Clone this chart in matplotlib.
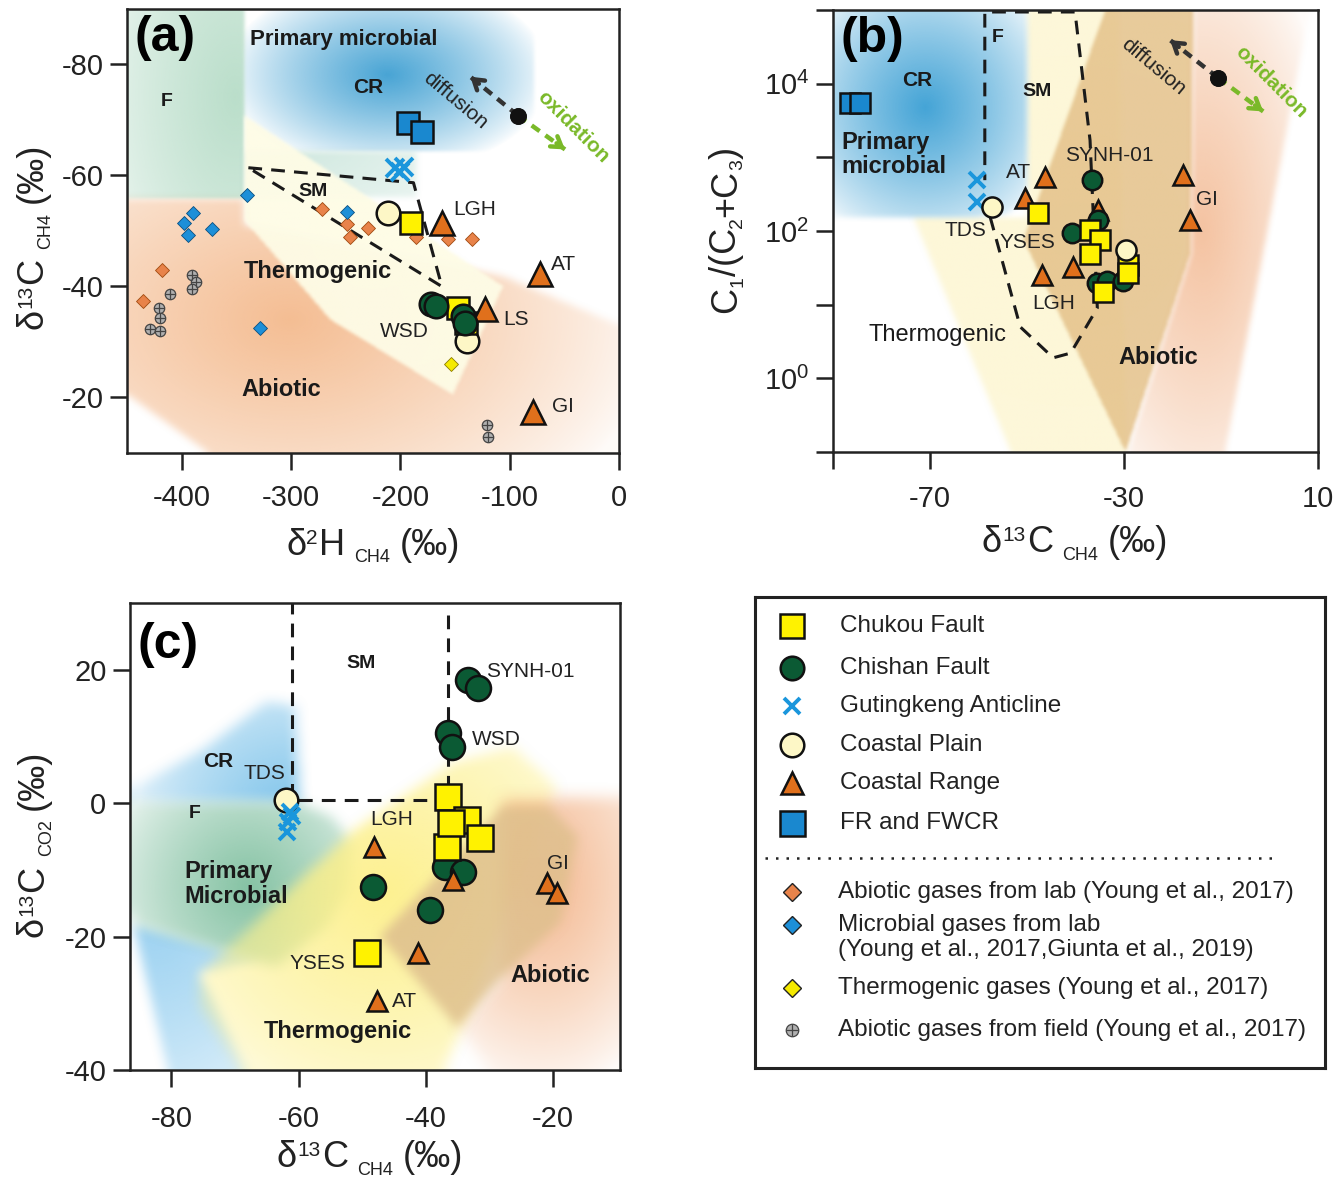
import numpy as np
import matplotlib
matplotlib.use("Agg")
import matplotlib.pyplot as plt
from matplotlib.path import Path
from matplotlib.colors import to_rgb

plt.rcParams["font.family"] = ["Liberation Sans", "DejaVu Sans"]
plt.rcParams["mathtext.default"] = "regular"
plt.rcParams["axes.unicode_minus"] = False

W, H = 1335, 1194

# ---------------- data: panel (a)  d2H vs d13C ----------------
chukou_a_x = [-190, -147, -140]
chukou_a_y = [-51.5, -36.2, -33.5]
chishan_a_x = [-172, -167, -143, -141]
chishan_a_y = [-36.8, -36.4, -34.6, -33.4]
guting_a_x = [-205, -200, -197]
guting_a_y = [-61.3, -60.6, -61.6]
cplain_a_x = [-211, -139]
cplain_a_y = [-53.3, -30.1]
crange_a_x = [-162, -123, -72, -79]
crange_a_y = [-51.5, -35.9, -42.2, -17.3]
fr_a_x = [-193, -180]
fr_a_y = [-69.5, -67.9]
lab_abiotic_x = [-272, -249, -246, -230, -186, -156, -134, -418, -435]
lab_abiotic_y = [-53.9, -51.2, -49.0, -50.6, -49.0, -48.6, -48.6, -43.0, -37.3]
lab_microbial_x = [-340, -390, -398, -394, -372, -249, -328]
lab_microbial_y = [-56.4, -53.3, -51.5, -49.2, -50.3, -53.5, -32.6]
lab_thermo_x = [-154]
lab_thermo_y = [-26]
field_abiotic_x = [-391, -387, -391, -411, -421, -420, -429, -420, -121, -120]
field_abiotic_y = [-42, -40.9, -39.5, -38.7, -36.2, -34.4, -32.3, -31.9, -15, -12.8]
sm_a_x = [-339, -188, -162, -339]
sm_a_y = [-61.4, -58.7, -40, -61.4]

a_f_zone = [(-460, -95), (-343, -95), (-343, -55.7), (-460, -55.7)]
a_microbial_zone = [(-343, -95), (-77, -95), (-77, -64.3), (-343, -64.3)]
a_strip_zone = [(-343, -64.3), (-185, -64.3), (-185, -56), (-343, -56)]
a_abiotic_zone = [(-460, -55.7), (-343, -55.7), (-343, -51), (-106, -41.8), (-2, -33.2),
                  (10, -33), (10, -5), (-340, -5), (-460, -22)]
a_thermo_zone = [(-342, -70.6), (-106, -40), (-152, -20.5), (-264, -34), (-342, -51.7)]

# ---------------- data: panel (b)  d13C vs C1/(C2+C3) ----------------
chukou_b_x = [-47.7, -37, -35, -37, -29.2, -29.2, -34.3]
chukou_b_y = [178, 102, 75, 48, 35, 27, 15]
chishan_b_x = [-36.6, -40.7, -35.4, -35.6, -33.5, -30.2]
chishan_b_y = [490, 93, 140, 19.5, 21, 21]
guting_b_x = [-60.3, -60.3]
guting_b_y = [490, 250]
cplain_b_x = [-57.2, -29.6]
cplain_b_y = [214, 55]
crange_b_x = [-46.3, -50.4, -35.4, -46.9, -40.5, -17.8, -16.4]
crange_b_y = [540, 280, 195, 25, 32, 575, 142]
fr_b_x = [-86.5, -84.5]
fr_b_y = [5500, 5500]
sm_b_x = [-57.6, -55.0, -51.4, -44.6, -41.0, -35.5, -37.0, -40.1, -58.7, -58.7]
sm_b_y = [155, 37, 5, 1.9, 2.2, 9, 1700, 9.4e4, 9.4e4, 490]

b_microbial_zone = [(-95, 3e5), (-50, 3e5), (-50, 400), (-51.5, 224), (-54.5, 166), (-60, 155), (-95, 155)]
b_thermo_zone = [(-50, 3e5), (-31.4, 3e5), (-29.6, 0.05), (-51.5, 0.05), (-73.5, 155), (-50, 155)]
b_tan_zone = [(-31.4, 3e5), (-15.8, 3e5), (-16.4, 50), (-29.8, 0.1), (-50.8, 76)]
b_peach_zone = [(-15.8, 3e5), (9.5, 3e5), (-9.6, 0.08), (-29.8, 0.08), (-16.4, 50)]

# ---------------- data: panel (c)  d13C-CH4 vs d13C-CO2 ----------------
chukou_c_x = [-36.5, -33.5, -31.5, -36.7, -36.0, -49.2]
chukou_c_y = [0.9, -2.5, -5.2, -6.6, -3.0, -22.5]
chishan_c_x = [-33.4, -31.8, -36.5, -35.9, -37, -34.1, -48.3, -39.3]
chishan_c_y = [18.5, 17.3, 10.5, 8.4, -9.6, -10.3, -12.6, -16.0]
guting_c_x = [-61.3, -61.6, -61.8, -61.0]
guting_c_y = [-1.3, -2.8, -4.3, -2.0]
cplain_c_x = [-62.0]
cplain_c_y = [0.5]
crange_c_x = [-48.2, -35.7, -41.2, -47.7, -20.9, -19.4]
crange_c_y = [-6.6, -11.5, -22.5, -29.7, -12.0, -13.5]
sm_c_x = [-36.5, -36.5, -61, -61]
sm_c_y = [28.2, 0.4, 0.4, 30]

c_cr_zone = [(-90, 0.2), (-75, 8), (-65, 15.2), (-60.5, 14.5), (-59.8, 0)]
c_f_zone = [(-90, 0.2), (-59.8, 0), (-54.6, -2.1), (-51.4, -6), (-51.9, -13), (-55.5, -18.6),
            (-63.4, -24.6), (-86, -18.3)]
c_blue_low_zone = [(-86, -18.3), (-66, -23.5), (-75.5, -25.5), (-65.6, -45), (-79.3, -45)]
c_thermo_zone = [(-75.5, -25.5), (-71.3, -22), (-51.9, -4.5), (-35.7, 6), (-26.3, 8.4), (-19.4, 2.4),
                 (-33, -30.6), (-39.3, -45), (-65.6, -45), (-75.5, -30.6)]
c_tan_zone = [(-47.2, -20), (-27.9, -0.6), (-20.5, -0.8), (-16.2, -5.1), (-18.9, -18), (-28.3, -26.5),
              (-35.1, -33.6)]
c_peach_zone = [(-28, 0.6), (-5, 1.0), (-5, -45), (-27, -45), (-35.1, -33.6), (-28.3, -26.5)]

legend_labels = ["Chukou Fault", "Chishan Fault", "Gutingkeng Anticline",
                 "Coastal Plain", "Coastal Range", "FR and FWCR"]
ref_labels = ["Abiotic gases from lab (Young et al., 2017)",
              "Microbial gases from lab\n(Young et al., 2017,Giunta et al., 2019)",
              "Thermogenic gases (Young et al., 2017)",
              "Abiotic gases from field (Young et al., 2017)"]

YELLOW = "#fff200"
GREEN = "#0b5a34"
XBLUE = "#1a96dc"
CREAM = "#fdf7c6"
ORANGE = "#e0701c"
BLUE = "#1a88cf"

STYLE = {
    "chukou": dict(marker="s", mfc=YELLOW, mec="#111", mew=1.8),
    "chishan": dict(marker="o", mfc=GREEN, mec="#111", mew=1.8),
    "guting": dict(marker="x", color=XBLUE, mew=2.8),
    "cplain": dict(marker="o", mfc=CREAM, mec="#111", mew=1.8),
    "crange": dict(marker="^", mfc=ORANGE, mec="#111", mew=1.8),
    "fr": dict(marker="s", mfc=BLUE, mec="#111", mew=1.8),
}


def fbox(l, t, r, b):
    return [l / W, 1 - b / H, (r - l) / W, (b - t) / H]


def box_blur(m, r):
    if r < 1:
        return m
    k = np.ones(2 * r + 1) / (2 * r + 1)
    f = lambda v: np.convolve(np.pad(v, r, mode="edge"), k, mode="valid")
    for _ in range(2):
        m = np.apply_along_axis(f, 0, m)
        m = np.apply_along_axis(f, 1, m)
    return m


def shade(ax, verts, color, center, radius, amax, amin=0.0, soft=2, z=0.5):
    # soft-edged, radially graded region drawn as an RGBA image in axes space
    n = 360
    g = (np.arange(n) + 0.5) / n
    gx, gy = np.meshgrid(g, g)
    to_ax = ax.transData + ax.transAxes.inverted()
    path = Path(to_ax.transform(np.asarray(verts, float)))
    mask = path.contains_points(np.c_[gx.ravel(), gy.ravel()]).reshape(n, n).astype(float)
    mask = box_blur(mask, soft)
    d = np.hypot((gx - center[0]) / radius[0], (gy - center[1]) / radius[1])
    a = (amin + (amax - amin) * np.clip(1 - d, 0, 1) ** 0.8) * mask
    img = np.zeros((n, n, 4))
    img[..., :3] = to_rgb(color)
    img[..., 3] = a
    ax.imshow(img, extent=(0, 1, 0, 1), transform=ax.transAxes, origin="lower",
              aspect="auto", interpolation="bilinear", zorder=z)


def pts(ax, x, y, key, ms, z=5):
    ax.plot(x, y, ls="none", ms=ms, zorder=z, **STYLE[key])


def arrow(ax, start, end, color, lw=3.2):
    ax.plot([start[0], end[0]], [start[1], end[1]], ls=(0, (2.2, 1.6)), color=color,
            lw=lw, solid_capstyle="butt", zorder=6)
    f = 0.18
    if ax.get_yscale() == "log":
        sy = end[1] * (start[1] / end[1]) ** f
    else:
        sy = end[1] + f * (start[1] - end[1])
    sx = end[0] + f * (start[0] - end[0])
    ax.annotate("", xy=end, xytext=(sx, sy),
                arrowprops=dict(arrowstyle="->,head_length=0.7,head_width=0.45",
                                color=color, lw=lw, shrinkA=0, shrinkB=0), zorder=6)
    ax.plot([start[0]], [start[1]], "o", ms=11, color="#111", zorder=7)


def frame(ax, lw=1.8):
    for s in ax.spines.values():
        s.set_linewidth(lw)
        s.set_color("#222")
    ax.tick_params(direction="out", length=12, width=1.8, labelsize=21, color="#222",
                   labelcolor="#222")


def bold(ax, x, y, s, size=17, **kw):
    ax.text(x, y, s, fontsize=size, fontweight="bold", ha=kw.pop("ha", "center"), va="center",
            color="#1a1a1a", **kw)


def site(ax, x, y, s, ha="left"):
    ax.text(x, y, s, fontsize=15, ha=ha, va="center", color="#222")


fig = plt.figure(figsize=(W / 100, H / 100), dpi=100)
renderer = fig.canvas.get_renderer()


def rich(center, base, parts, rot=0):
    # label built from pieces: (text, fontsize, baseline shift px, gap px after)
    widths = []
    for s, size, dy, gap in parts:
        t = fig.text(0, 0, s, fontsize=size)
        widths.append(t.get_window_extent(renderer).width + gap)
        t.remove()
    total = sum(widths)
    if rot == 0:
        x = center - total / 2
        for (s, size, dy, gap), w in zip(parts, widths):
            fig.text(x / W, 1 - (base - dy) / H, s, fontsize=size, ha="left", va="baseline",
                     color="#222")
            x += w
    else:
        y = center + total / 2
        for (s, size, dy, gap), w in zip(parts, widths):
            fig.text((base - dy) / W, 1 - y / H, s, fontsize=size, ha="left", va="baseline",
                     rotation=90, rotation_mode="anchor", color="#222")
            y -= w


# ======================= panel (a) =======================
ax = fig.add_axes(fbox(127, 9, 619, 453))
ax.set_xlim(-450, 0)
ax.set_ylim(-10, -90)
ax.set_xticks([-400, -300, -200, -100, 0])
ax.set_yticks([-80, -60, -40, -20])
frame(ax)
ax.tick_params(axis="x", pad=10)
ax.tick_params(axis="y", pad=5)

shade(ax, a_abiotic_zone, "#f2ad78", (0.33, 0.30), (0.75, 0.55), 0.8, 0.05, soft=3, z=0.2)
shade(ax, a_f_zone, "#a9d6bd", (0.22, 0.80), (0.25, 0.5), 0.8, 0.3, soft=1, z=0.3)
shade(ax, a_microbial_zone, "#3e9fd2", (0.53, 0.85), (0.33, 0.22), 0.95, 0.0, soft=1, z=0.3)
shade(ax, a_strip_zone, "#bfe0d4", (0.35, 0.68), (0.4, 0.2), 0.7, 0.2, soft=2, z=0.35)
shade(ax, a_thermo_zone, "#fefce6", (0.5, 0.5), (1, 1), 0.97, 0.92, soft=1, z=0.4)

ax.plot(sm_a_x, sm_a_y, ls=(0, (4.5, 3)), color="#1a1a1a", lw=2.2, zorder=2)

ax.plot(lab_abiotic_x, lab_abiotic_y, ls="none", marker="D", ms=6.8, mfc="#e8834a", mec="#a04a10",
        mew=0.6, zorder=3)
ax.plot(lab_microbial_x, lab_microbial_y, ls="none", marker="D", ms=6.8, mfc="#1d8fd8",
        mec="#0b4f80", mew=0.6, zorder=3)
ax.plot(lab_thermo_x, lab_thermo_y, ls="none", marker="D", ms=6.8, mfc="#f5ea00", mec="#8a7a00",
        mew=0.6, zorder=3)
ax.plot(field_abiotic_x, field_abiotic_y, ls="none", marker="o", ms=7.5, mfc="#b0b0b0", mec="#444",
        mew=0.9, zorder=3)
ax.plot(field_abiotic_x, field_abiotic_y, ls="none", marker="+", ms=7.5, color="#444", mew=0.9,
        zorder=3)

pts(ax, fr_a_x, fr_a_y, "fr", 16.5)
pts(ax, guting_a_x, guting_a_y, "guting", 13)
pts(ax, cplain_a_x, cplain_a_y, "cplain", 17)
pts(ax, chukou_a_x, chukou_a_y, "chukou", 16.5)
pts(ax, crange_a_x, crange_a_y, "crange", 17)
pts(ax, chishan_a_x, chishan_a_y, "chishan", 17)

arrow(ax, (-92.4, -70.8), (-136, -77.8), "#333333")
arrow(ax, (-92.4, -70.8), (-49.4, -64.7), "#7ab929")
ax.text(-150, -73.5, "diffusion", fontsize=15, rotation=-40, ha="center", va="center", color="#222")
ax.text(-42, -68.8, "oxidation", fontsize=15, rotation=-45, ha="center", va="center",
        color="#7ab929", fontweight="bold")

bold(ax, -252, -84.5, "Primary microbial", 16)
bold(ax, -229, -75.9, "CR", 15)
bold(ax, -414, -73.3, "F", 14)
bold(ax, -280, -57.1, "SM", 14)
bold(ax, -275, -42.7, "Thermogenic")
bold(ax, -309, -21.4, "Abiotic")
site(ax, -152, -53.9, "LGH")
site(ax, -62, -44.0, "AT")
site(ax, -106, -34.1, "LS")
site(ax, -196, -31.9, "WSD", ha="center")
site(ax, -61, -18.4, "GI")
ax.text(0.015, 0.935, "(a)", transform=ax.transAxes, fontsize=36, fontweight="bold", ha="left", va="center")

# ======================= panel (b) =======================
bx = fig.add_axes(fbox(833, 10, 1318, 452))
bx.set_yscale("log")
bx.set_xlim(-90, 10)
bx.set_ylim(0.1, 1e5)
bx.set_xticks([-90, -70, -30, 10])
bx.set_xticklabels(["", "-70", "-30", "10"])
bx.set_yticks([10.0 ** k for k in range(-1, 6)])
bx.set_yticklabels(["", "$10^{0}$", "", "$10^{2}$", "", "$10^{4}$", ""])
bx.minorticks_off()
frame(bx)
bx.tick_params(axis="x", pad=12)
bx.tick_params(axis="y", pad=5)

shade(bx, b_thermo_zone, "#fdf7d6", (0.5, 0.5), (1, 1), 0.95, 0.9, soft=2, z=0.2)
shade(bx, b_tan_zone, "#e5c38c", (0.5, 0.5), (1, 1), 0.88, 0.85, soft=1, z=0.3)
shade(bx, b_peach_zone, "#f2b48a", (0.76, 0.5), (0.28, 0.7), 0.8, 0.05, soft=2, z=0.3)
shade(bx, b_microbial_zone, "#3a9fd4", (0.19, 0.78), (0.28, 0.32), 0.95, 0.1, soft=2, z=0.4)

bx.plot(sm_b_x, sm_b_y, ls=(0, (4.5, 3)), color="#1a1a1a", lw=2.2, zorder=2)

pts(bx, fr_b_x, fr_b_y, "fr", 14)
pts(bx, guting_b_x, guting_b_y, "guting", 11)
pts(bx, crange_b_x, crange_b_y, "crange", 14)
pts(bx, chishan_b_x, chishan_b_y, "chishan", 14)
pts(bx, chukou_b_x, chukou_b_y, "chukou", 14)
pts(bx, cplain_b_x, cplain_b_y, "cplain", 14.5)

arrow(bx, (-10.6, 1.2e4), (-20.5, 3.9e4), "#333333")
arrow(bx, (-10.6, 1.2e4), (-1.3, 4.2e3), "#7ab929")
bx.text(-24, 1.7e4, "diffusion", fontsize=15, rotation=-40, ha="center", va="center", color="#222")
bx.text(0.3, 1.05e4, "oxidation", fontsize=15, rotation=-45, ha="center", va="center",
        color="#7ab929", fontweight="bold")

bold(bx, -72.7, 1.12e4, "CR", 15)
bold(bx, -47.9, 7.8e3, "SM", 14)
bold(bx, -56, 4.2e4, "F", 14)
bold(bx, -88.3, 1.1e3, "Primary\nmicrobial", 17, ha="left", linespacing=1.05)
site(bx, -42.2, 1.07e3, "SYNH-01")
site(bx, -54.3, 620, "AT")
site(bx, -15.2, 265, "GI")
site(bx, -67.1, 102, "TDS")
site(bx, -55.6, 69, "YSES")
site(bx, -49, 10.5, "LGH")
bx.text(-68.5, 3.9, "Thermogenic", fontsize=17, ha="center", va="center", color="#1a1a1a")
bold(bx, -23, 1.9, "Abiotic")
bx.text(0.015, 0.935, "(b)", transform=bx.transAxes, fontsize=36, fontweight="bold", ha="left", va="center")

# ======================= panel (c) =======================
cx = fig.add_axes(fbox(130, 603, 620, 1070))
cx.set_xlim(-86.5, -9.5)
cx.set_ylim(-40, 30)
cx.set_xticks([-80, -60, -40, -20])
cx.set_yticks([20, 0, -20, -40])
frame(cx)
cx.tick_params(axis="x", pad=13)
cx.tick_params(axis="y", pad=5)

shade(cx, c_cr_zone, "#74bfe9", (0.32, 0.55), (0.3, 0.3), 0.9, 0.25, soft=5, z=0.2)
shade(cx, c_blue_low_zone, "#86c8ee", (0.05, 0.35), (0.35, 0.5), 0.85, 0.2, soft=4, z=0.2)
shade(cx, c_f_zone, "#78bc9a", (0.24, 0.39), (0.28, 0.3), 0.9, 0.2, soft=5, z=0.3)
shade(cx, c_thermo_zone, "#fdf08a", (0.52, 0.38), (0.45, 0.45), 0.95, 0.35, soft=5, z=0.4)
shade(cx, c_peach_zone, "#f2ad7e", (0.84, 0.4), (0.3, 0.45), 0.85, 0.05, soft=6, z=0.45)
shade(cx, c_tan_zone, "#dfc08e", (0.3, 0.5), (0.8, 0.8), 0.92, 0.8, soft=4, z=0.5)

cx.plot(sm_c_x, sm_c_y, ls=(0, (4.5, 3)), color="#1a1a1a", lw=2.2, zorder=2)

pts(cx, cplain_c_x, cplain_c_y, "cplain", 17)
pts(cx, guting_c_x, guting_c_y, "guting", 12)
pts(cx, chishan_c_x, chishan_c_y, "chishan", 18)
pts(cx, chukou_c_x, chukou_c_y, "chukou", 18.5)
pts(cx, crange_c_x, crange_c_y, "crange", 15)

bold(cx, -50.2, 20.9, "SM", 14)
bold(cx, -72.7, 6.2, "CR", 15)
bold(cx, -76.4, -1.6, "F", 14)
bold(cx, -77.9, -12.1, "Primary\nMicrobial", 17, ha="left", linespacing=1.1)
site(cx, -65.4, 4.5, "TDS", ha="center")
site(cx, -48.8, -2.5, "LGH")
site(cx, -30.5, 19.7, "SYNH-01")
site(cx, -32.7, 9.6, "WSD")
site(cx, -19.2, -9.0, "GI", ha="center")
site(cx, -52.7, -24.0, "YSES", ha="right")
site(cx, -45.3, -29.8, "AT")
bold(cx, -53.8, -34.3, "Thermogenic")
bold(cx, -20.5, -25.8, "Abiotic")
cx.text(0.015, 0.91, "(c)", transform=cx.transAxes, fontsize=36, fontweight="bold", ha="left", va="center")

# ======================= axis titles =======================
rich(373, 555, [("δ", 26, 0, 0), ("2", 15, 11, 1), ("H", 26, 0, 9), ("CH4", 13, -7, 10), ("(‰)", 26, 0, 0)])
rich(1075, 552, [("δ", 26, 0, 1), ("13", 15, 11, 1), ("C", 26, 0, 9), ("CH4", 13, -8, 10), ("(‰)", 26, 0, 0)])
rich(370, 1167, [("δ", 26, 0, 1), ("13", 15, 11, 1), ("C", 26, 0, 9), ("CH4", 13, -8, 10), ("(‰)", 26, 0, 0)])
rich(236, 42, [("δ", 26, 0, 1), ("13", 15, 11, 1), ("C", 26, 0, 9), ("CH4", 13, -8, 10), ("(‰)", 26, 0, 0)], rot=90)
rich(843, 43, [("δ", 26, 0, 1), ("13", 15, 11, 1), ("C", 26, 0, 9), ("CO2", 13, -8, 10), ("(‰)", 26, 0, 0)], rot=90)
rich(230, 736, [("C", 26, 0, 0), ("1", 14, -6, 0), ("/(C", 26, 0, 0), ("2", 14, -6, 0),
                ("+C", 26, 0, 0), ("3", 14, -6, 0), (")", 26, 0, 0)], rot=90)

# ======================= legend box =======================
lg = fig.add_axes(fbox(755, 597, 1325, 1068))
lg.set_xlim(0, 570)
lg.set_ylim(471, 0)
lg.set_xticks([])
lg.set_yticks([])
for s in lg.spines.values():
    s.set_linewidth(2.2)
    s.set_color("#222")

rows = [29, 71, 109, 148, 186, 226]
keys = ["chukou", "chishan", "guting", "cplain", "crange", "fr"]
sizes = [17, 17, 11, 17, 16, 18]
for k, yy, lab, ms in zip(keys, rows, legend_labels, sizes):
    lg.plot([37], [yy], ls="none", ms=ms, **STYLE[k])
    lg.text(85, yy, lab, fontsize=17.5, ha="left", va="center", color="#222")

lg.plot([10, 520], [261, 261], ls=(0, (1, 3.2)), color="#222", lw=1.8)

ref_rows = [295, 328, 391, 433]
ref_style = [dict(marker="D", ms=9, mfc="#e8834a", mec="#222", mew=1.0),
             dict(marker="D", ms=9, mfc="#1d8fd8", mec="#222", mew=1.0),
             dict(marker="D", ms=9, mfc="#f5ea00", mec="#222", mew=1.0),
             dict(marker="o", ms=9, mfc="#b0b0b0", mec="#444", mew=0.9)]
for yy, lab, st in zip(ref_rows, ref_labels, ref_style):
    lg.plot([37], [yy], ls="none", **st)
    if "\n" in lab:
        lg.text(83, yy - 11, lab, fontsize=17.5, ha="left", va="top", color="#222", linespacing=1.2)
    else:
        lg.text(83, yy, lab, fontsize=17.5, ha="left", va="center", color="#222")
lg.plot([37], [ref_rows[3]], ls="none", marker="+", ms=9, color="#444", mew=0.9)

fig.savefig("out.png", dpi=100)
